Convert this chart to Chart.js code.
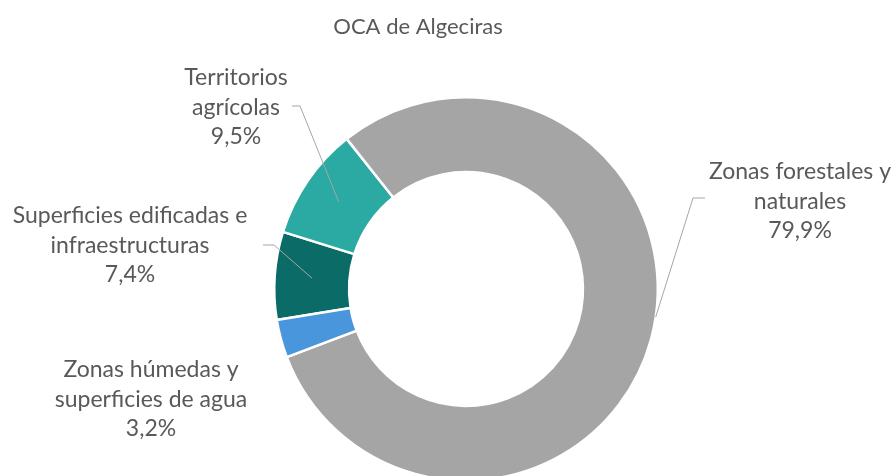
<!DOCTYPE html>
<html lang="es">
  <head>
    <meta charset="UTF-8" />
    <title>OCA de Algeciras</title>
    <script src="https://cdn.jsdelivr.net/npm/chart.js"></script>
    <style>
      html,
      body {
        margin: 0;
        padding: 0;
        background: #fff;
        overflow: hidden;
      }
      .chart-container {
        position: relative;
        width: 893px;
        height: 492px;
      }
    </style>
  </head>
  <body>
    <div class="chart-container">
      <canvas id="ocaChart"></canvas>
    </div>

    <script>
      // Datos (orden de Excel, sentido horario)
      const categories = [
        "Superficies edificadas e infraestructuras",
        "Territorios agrícolas",
        "Zonas forestales y naturales",
        "Zonas húmedas y superficies de agua",
      ];
      const labelLines = [
        ["Superficies edificadas e", "infraestructuras"],
        ["Territorios", "agrícolas"],
        ["Zonas forestales y", "naturales"],
        ["Zonas húmedas y", "superficies de agua"],
      ];
      const values = [7.4, 9.5, 79.9, 3.2];
      const colors = ["#0b6b66", "#2aaaa2", "#a5a5a5", "#4a96dc"];
      const chartTitle = "OCA de Algeciras";

      // Posición de las etiquetas (centro del bloque, primera línea)
      const labelPos = [
        { x: 130, y: 216 },
        { x: 236, y: 78 },
        { x: 800, y: 172 },
        { x: 151, y: 370 },
      ];
      // Líneas guía: inicio, codo, y punto dentro del arco (fracción de ángulo / radio)
      const leaders = [
        { from: [263, 245], elbow: [274, 245], t: 0.5, r: 0.5 },
        { from: [292, 106], elbow: [300, 106], t: 0.5, r: 0.5 },
        { from: [705, 198], elbow: [693, 198], t: 0.476, r: 1.0 },
        null,
      ];

      const FONT = '23px "Lato", "Open Sans", sans-serif';
      const TEXT_COLOR = "#595959";
      const LINE_H = 29.5;

      const fmt = (v) => v.toFixed(1).replace(".", ",") + "%";

      const labelsPlugin = {
        id: "excelLabels",
        afterDraw(chart) {
          const ctx = chart.ctx;
          const arcs = chart.getDatasetMeta(0).data;
          ctx.save();

          // título
          ctx.font = '22px "Lato", "Open Sans", sans-serif';
          ctx.fillStyle = TEXT_COLOR;
          ctx.textAlign = "center";
          ctx.textBaseline = "middle";
          ctx.fillText(chartTitle, 418, 27);

          // líneas guía
          ctx.strokeStyle = "#a6a6a6";
          ctx.lineWidth = 1;
          arcs.forEach((arc, i) => {
            const ld = leaders[i];
            if (!ld) return;
            const p = arc.getProps(
              ["x", "y", "startAngle", "endAngle", "innerRadius", "outerRadius"],
              true
            );
            const a = p.startAngle + (p.endAngle - p.startAngle) * ld.t;
            const rad = p.innerRadius + (p.outerRadius - p.innerRadius) * ld.r;
            const ax = p.x + Math.cos(a) * rad;
            const ay = p.y + Math.sin(a) * rad;
            ctx.beginPath();
            ctx.moveTo(ld.from[0], ld.from[1]);
            ctx.lineTo(ld.elbow[0], ld.elbow[1]);
            ctx.lineTo(ax, ay);
            ctx.stroke();
          });

          // etiquetas
          ctx.font = FONT;
          ctx.fillStyle = TEXT_COLOR;
          labelLines.forEach((lines, i) => {
            const all = lines.concat([fmt(values[i])]);
            all.forEach((txt, j) => {
              ctx.fillText(txt, labelPos[i].x, labelPos[i].y + j * LINE_H);
            });
          });
          ctx.restore();
        },
      };

      const ctx = document.getElementById("ocaChart").getContext("2d");
      new Chart(ctx, {
        type: "doughnut",
        data: {
          labels: categories,
          datasets: [
            {
              data: values,
              backgroundColor: colors,
              borderColor: "#ffffff",
              borderWidth: 2.5,
            },
          ],
        },
        options: {
          responsive: true,
          maintainAspectRatio: false,
          animation: false,
          rotation: 260.7,
          cutout: "61%",
          layout: {
            padding: { top: 96, bottom: 10, left: 273, right: 234 },
          },
          plugins: {
            legend: { display: false },
            tooltip: { enabled: false },
          },
        },
        plugins: [labelsPlugin],
      });
    </script>
  </body>
</html>
